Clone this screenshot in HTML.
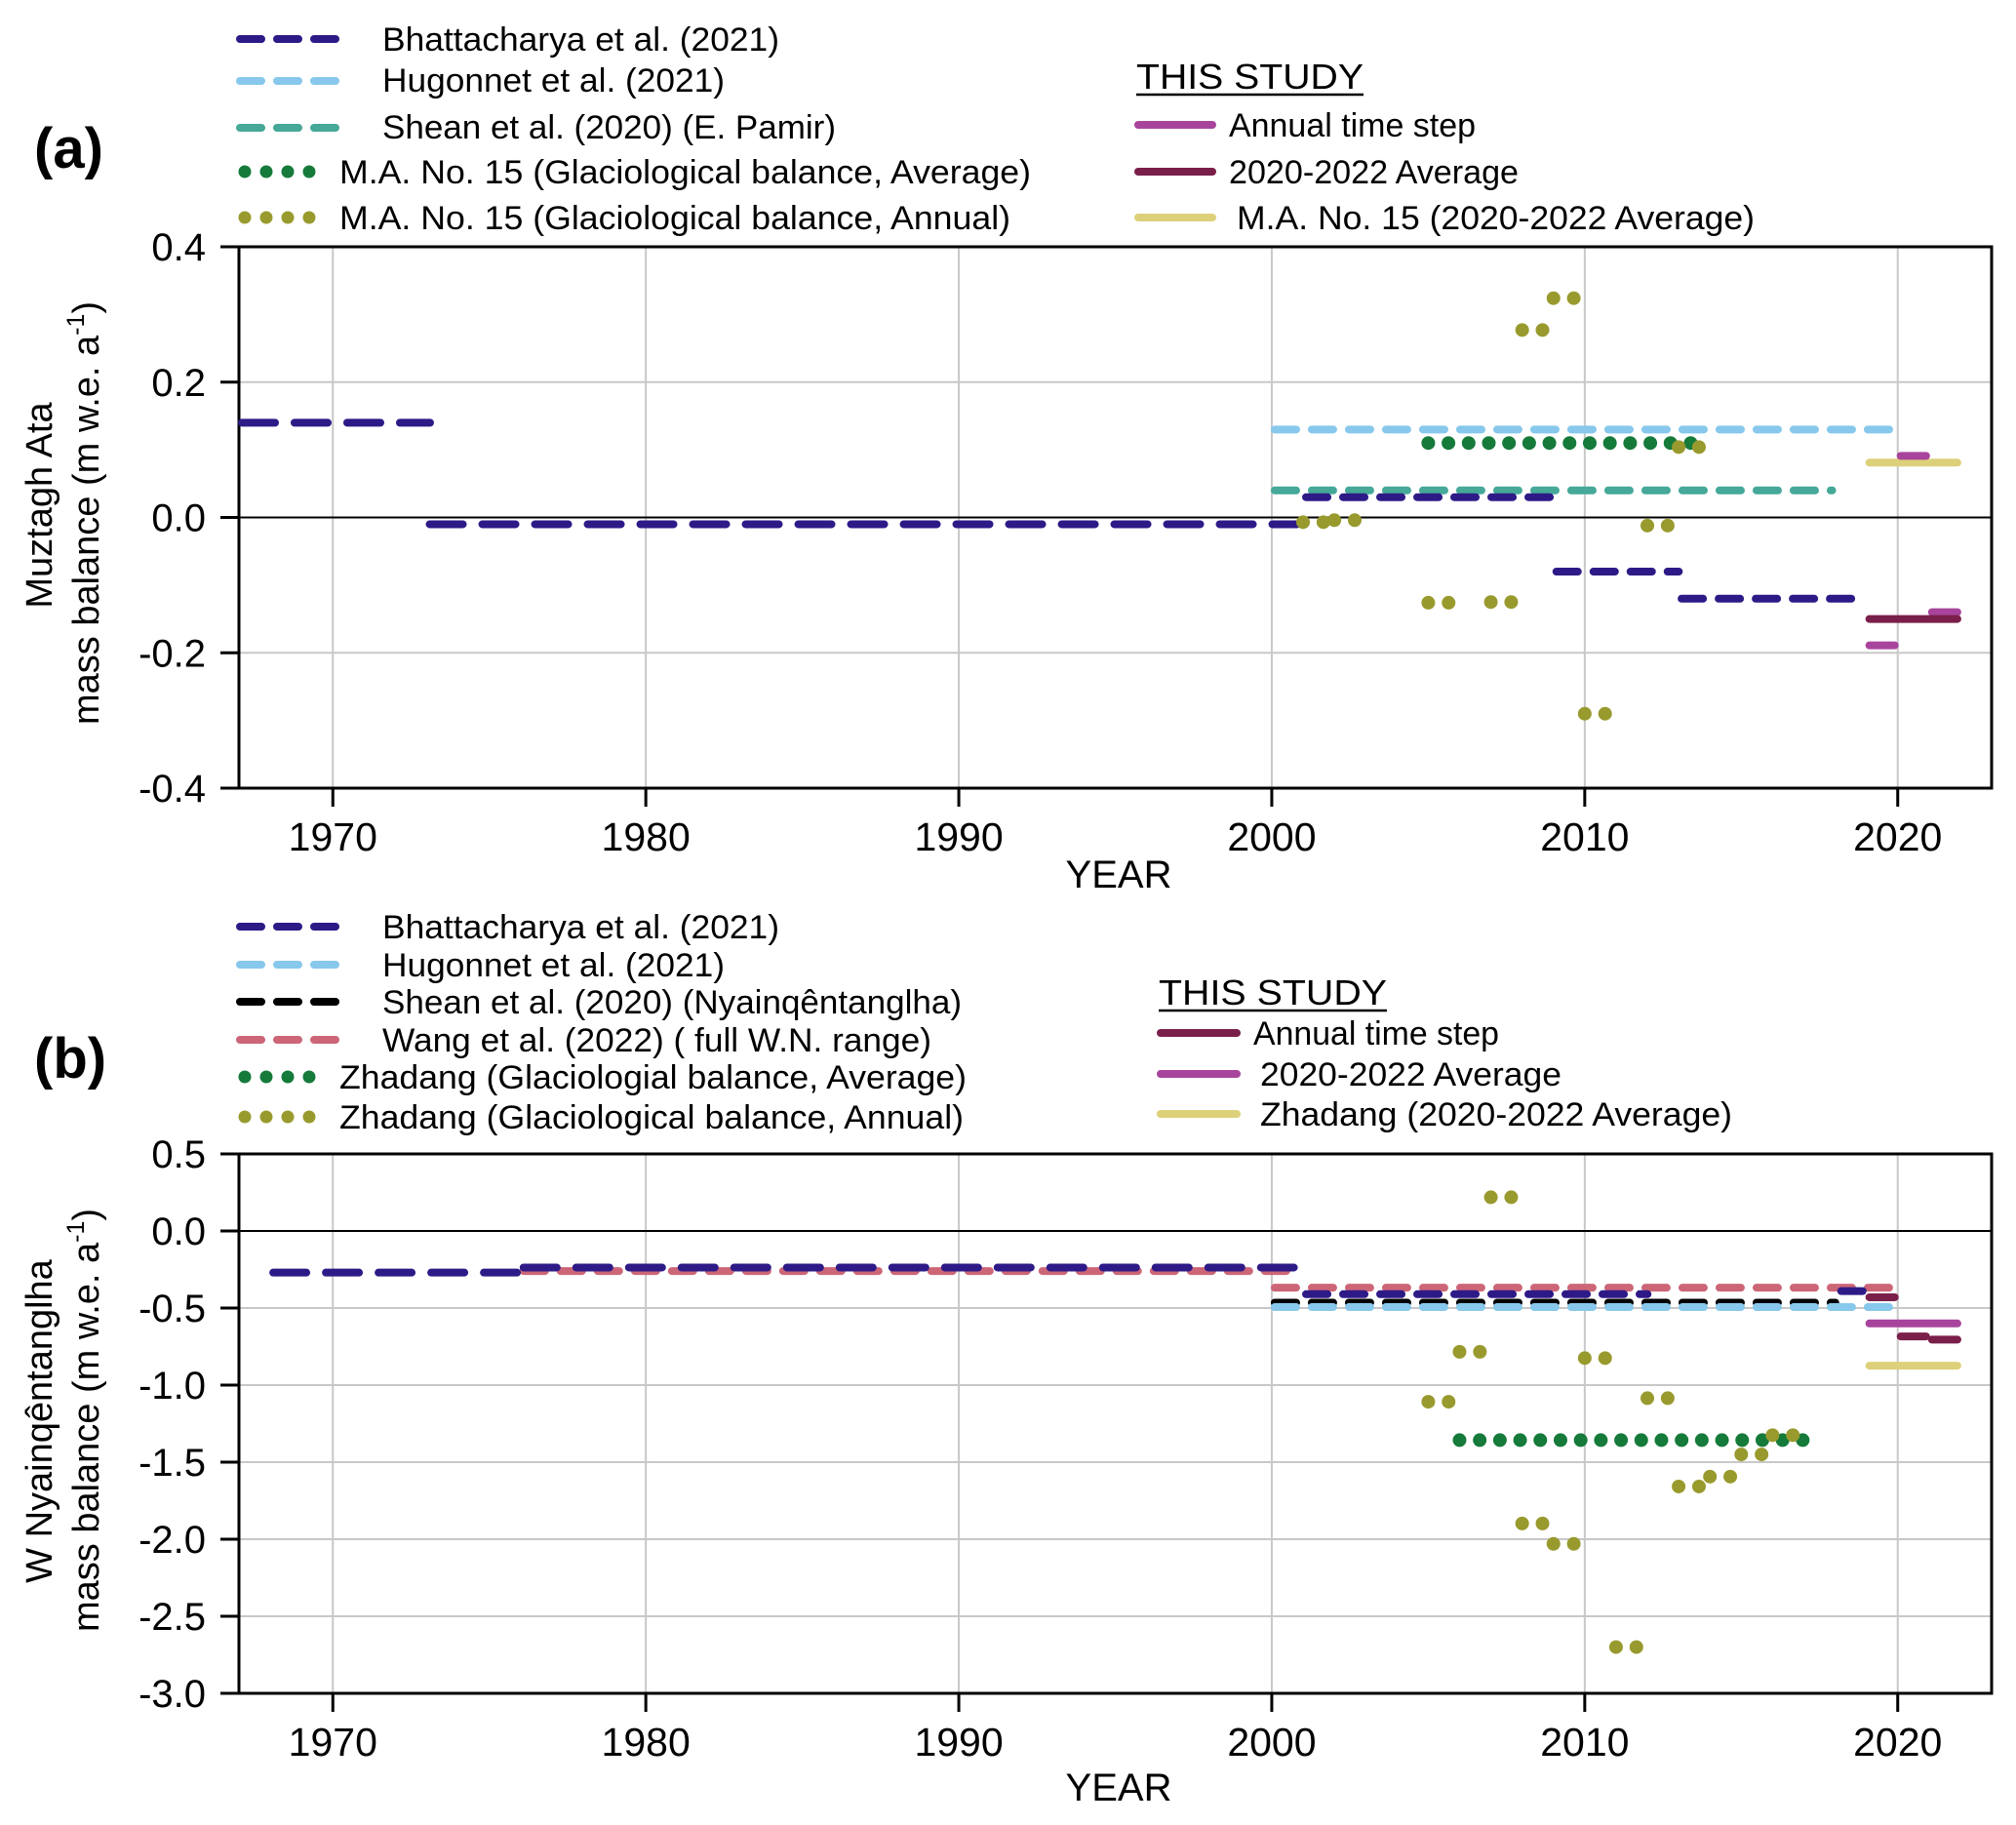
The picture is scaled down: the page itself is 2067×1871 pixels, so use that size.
<!DOCTYPE html>
<html><head><meta charset="utf-8">
<style>
html,body{margin:0;padding:0;background:#fff;}
svg{display:block;font-family:"Liberation Sans",sans-serif;}
</style></head>
<body>
<svg id="fig" width="2067" height="1871" viewBox="0 0 2067 1871" xmlns="http://www.w3.org/2000/svg"></svg>
<script>
// ---------- Panel (a) data: Muztagh Ata ----------
const a_bhatt_start = [1967, 1973, 2001, 2009, 2013];
const a_bhatt_end   = [1973.2, 2000.9, 2009, 2013.1, 2019];
const a_bhatt_val   = [0.14, -0.01, 0.03, -0.08, -0.12];
const a_hug_start = [2000]; const a_hug_end = [2020]; const a_hug_val = [0.13];
const a_shean_start = [2000]; const a_shean_end = [2018]; const a_shean_val = [0.04];
const a_avg_start = [2005]; const a_avg_end = [2013.5]; const a_avg_val = [0.11];
const a_ann_years = [2001, 2002, 2005, 2007, 2008, 2009, 2010, 2012, 2013];
const a_ann_vals  = [-0.007, -0.004, -0.126, -0.125, 0.277, 0.324, -0.29, -0.012, 0.104];
const a_study_annual_start = [2019, 2020, 2021];
const a_study_annual_end   = [2020, 2021, 2022];
const a_study_annual_val   = [-0.189, 0.091, -0.14];
const a_study_avg_start = [2019]; const a_study_avg_end = [2022]; const a_study_avg_val = [-0.15];
const a_site_avg_start = [2019]; const a_site_avg_end = [2022]; const a_site_avg_val = [0.081];
const a_yticks = [0.4, 0.2, 0.0, -0.2, -0.4];
const a_ytick_labels = ["0.4", "0.2", "0.0", "-0.2", "-0.4"];

// ---------- Panel (b) data: W Nyainqentanglha ----------
const b_bhatt_start = [1968, 1976, 2001, 2018.1];
const b_bhatt_end   = [1976.2, 2000.8, 2012.1, 2019];
const b_bhatt_val   = [-0.27, -0.237, -0.41, -0.39];
const b_wang_start = [1976, 2000]; const b_wang_end = [2000.9, 2020]; const b_wang_val = [-0.26, -0.368];
const b_shean_start = [2000]; const b_shean_end = [2018.1]; const b_shean_val = [-0.465];
const b_hug_start = [2000]; const b_hug_end = [2020]; const b_hug_val = [-0.494];
const b_avg_start = [2006]; const b_avg_end = [2017]; const b_avg_val = [-1.357];
const b_ann_years = [2005, 2006, 2007, 2008, 2009, 2010, 2011, 2012, 2013, 2014, 2015, 2016];
const b_ann_vals  = [-1.108, -0.784, 0.219, -1.898, -2.03, -0.825, -2.70, -1.085, -1.658, -1.594, -1.45, -1.325];
const b_study_annual_start = [2019, 2020, 2021];
const b_study_annual_end   = [2020, 2021, 2022];
const b_study_annual_val   = [-0.43, -0.684, -0.705];
const b_study_avg_start = [2019]; const b_study_avg_end = [2022]; const b_study_avg_val = [-0.60];
const b_site_avg_start = [2019]; const b_site_avg_end = [2022]; const b_site_avg_val = [-0.874];
const b_yticks = [0.5, 0.0, -0.5, -1.0, -1.5, -2.0, -2.5, -3.0];
const b_ytick_labels = ["0.5", "0.0", "-0.5", "-1.0", "-1.5", "-2.0", "-2.5", "-3.0"];

const xticks = [1970, 1980, 1990, 2000, 2010, 2020];
const xtick_labels = ["1970", "1980", "1990", "2000", "2010", "2020"];

const C = {bhatt:"#2e1a87", hug:"#87c8ec", sheanA:"#45a898", black:"#000", wang:"#cc6677",
  avg:"#157a3a", ann:"#999a2e", magenta:"#a8449c", maroon:"#7a1f4a", yellow:"#ddd07a"};

const NS = "http://www.w3.org/2000/svg";
const svg = document.getElementById("fig");
function mk(tag, attrs, parent) {
  const e = document.createElementNS(NS, tag);
  for (const k in attrs) e.setAttribute(k, attrs[k]);
  (parent || svg).appendChild(e);
  return e;
}
const X0 = 245, X1 = 2042, XMIN = 1967, XMAX = 2023;
function xs(v) { return X0 + (v - XMIN) / (XMAX - XMIN) * (X1 - X0); }

function panel(name, top, bot, ymax, ymin, yticks, ylabels) {
  const g = mk("g", {});
  
  
  const ys = v => top + (ymax - v) / (ymax - ymin) * (bot - top);
  xticks.forEach(t => { const l = mk("line", {x1:xs(t), x2:xs(t), y1:top, y2:bot, stroke:"#c8c8c8", "stroke-width":2}, g);
      });
  yticks.forEach(t => { const l = mk("line", {x1:X0, x2:X1, y1:ys(t), y2:ys(t), stroke: t===0 ? "#000" : "#c8c8c8", "stroke-width":2}, g);
      });
  const fr = mk("rect", {x:X0, y:top, width:X1-X0, height:bot-top, fill:"none", stroke:"#000", "stroke-width":3}, g);
   
  yticks.forEach((t, i) => {
    const l = mk("line", {x1:X0-19, x2:X0, y1:ys(t), y2:ys(t), stroke:"#000", "stroke-width":3}, g);
     
    const tx = mk("text", {x:211, y:ys(t)+14, "font-size":40, "text-anchor":"end"}, g);
    tx.textContent = ylabels[i];
     
  });
  xticks.forEach((t, i) => {
    const l = mk("line", {x1:xs(t), x2:xs(t), y1:bot, y2:bot+19, stroke:"#000", "stroke-width":3}, g);
     
    const tx = mk("text", {x:xs(t), y:bot+64, "font-size":41, "text-anchor":"middle"}, g);
    tx.textContent = xtick_labels[i];
     
  });
  return {g, ys};
}

function segs(P, starts, ends, vals, color, dash, name) {
  starts.forEach((s, i) => {
    const l = mk("line", {x1:xs(s)+3, x2:xs(ends[i])-3, y1:P.ys(vals[i]), y2:P.ys(vals[i]), stroke:color,
      "stroke-width":8, "stroke-linecap":"round"}, P.g);
    if (dash) l.setAttribute("stroke-dasharray", dash);
    
    
  });
}
function dotsRange(P, starts, ends, vals, color, name) {
  starts.forEach((s, i) => {
    for (let t = s; t <= ends[i] + 0.01; t += 0.645) {
      const c = mk("circle", {cx:xs(t), cy:P.ys(vals[i]), r:7, fill:color}, P.g);
      
      
    }
  });
}
function annualDots(P, years, vals, color, name) {
  years.forEach((y, i) => {
    [0, 0.65].forEach(off => {
      const c = mk("circle", {cx:xs(y+off), cy:P.ys(vals[i]), r:7, fill:color}, P.g);
      
      
    });
  });
}
function txt(x, y, s, size, name, len, extra) {
  const t = mk("text", Object.assign({x:x, y:y, "font-size":size}, extra || {}));
  t.textContent = s;
  if (len) { t.setAttribute("textLength", len); t.setAttribute("lengthAdjust", "spacingAndGlyphs"); }
  
  
  return t;
}
function legLine(x1, x2, y, color, kind, name) {
  let e;
  if (kind === "dots") {
    e = mk("g", {});
    for (let k = 0; k < 4; k++) mk("circle", {cx:x1+6+k*22, cy:y, r:6.5, fill:color}, e);
  } else {
    e = mk("line", {x1:x1+4, x2:x2-4, y1:y, y2:y, stroke:color, "stroke-width":8, "stroke-linecap":"round"});
    if (kind === "dash") e.setAttribute("stroke-dasharray", "22 16");
  }
  
  
}

// ===== Panel (a) =====
const PA = panel("panel-a-plot", 253, 808, 0.4, -0.4, a_yticks, a_ytick_labels);
segs(PA, a_hug_start, a_hug_end, a_hug_val, C.hug, "22 16", "hugonnet-line");
segs(PA, a_shean_start, a_shean_end, a_shean_val, C.sheanA, "22 16", "shean-line");
segs(PA, a_bhatt_start.slice(0,2), a_bhatt_end.slice(0,2), a_bhatt_val.slice(0,2), C.bhatt, "34 20", "bhattacharya-line");
segs(PA, a_bhatt_start.slice(2), a_bhatt_end.slice(2), a_bhatt_val.slice(2), C.bhatt, "22 16", "bhattacharya-line");
dotsRange(PA, a_avg_start, a_avg_end, a_avg_val, C.avg, "glaciological-average-dot");
annualDots(PA, a_ann_years, a_ann_vals, C.ann, "glaciological-annual-dot");
segs(PA, a_site_avg_start, a_site_avg_end, a_site_avg_val, C.yellow, null, "site-2020-2022-average");
segs(PA, a_study_annual_start, a_study_annual_end, a_study_annual_val, C.magenta, null, "study-annual-step");
segs(PA, a_study_avg_start, a_study_avg_end, a_study_avg_val, C.maroon, null, "study-2020-2022-average");

txt(35, 172, "(a)", 58, "panel-a-label", null, {"font-weight":"bold"});
legLine(242, 351, 40, C.bhatt, "dash", "legend-bhattacharya");
txt(392, 52, "Bhattacharya et al. (2021)", 34, "legend-text", 407);
legLine(242, 351, 83, C.hug, "dash", "legend-hugonnet");
txt(392, 94, "Hugonnet et al. (2021)", 34, "legend-text", 351);
legLine(242, 351, 131, C.sheanA, "dash", "legend-shean");
txt(392, 142, "Shean et al. (2020) (E. Pamir)", 34, "legend-text", 465);
legLine(245, 320, 176, C.avg, "dots", "legend-glaciological-average");
txt(348, 188, "M.A. No. 15 (Glaciological balance, Average)", 34, "legend-text", 709);
legLine(245, 320, 223, C.ann, "dots", "legend-glaciological-annual");
txt(348, 235, "M.A. No. 15 (Glaciological balance, Annual)", 34, "legend-text", 688);
txt(1165, 91, "THIS STUDY", 36, "legend-title", 233);
mk("line", {x1:1165, x2:1398, y1:97, y2:97, stroke:"#000", "stroke-width":2.5});
legLine(1163, 1247, 128, C.magenta, "solid", "legend-annual-step");
txt(1260, 140, "Annual time step", 34, "legend-text", 253);
legLine(1163, 1247, 176, C.maroon, "solid", "legend-2020-2022-average");
txt(1260, 188, "2020-2022 Average", 34, "legend-text", 297);
legLine(1163, 1247, 223, C.yellow, "solid", "legend-site-average");
txt(1268, 235, "M.A. No. 15 (2020-2022 Average)", 34, "legend-text", 531);

txt(1147, 910, "YEAR", 40, "x-axis-title-a", null, {"text-anchor":"middle"});
let yt = txt(0, 0, "Muztagh Ata", 38, "y-axis-title-a", null, {"text-anchor":"middle", transform:"translate(53,518) rotate(-90)"});
yt = txt(0, 0, "", 38, "y-axis-title-a", null, {"text-anchor":"middle", transform:"translate(101,526) rotate(-90)"});
yt.innerHTML = 'mass balance (m w.e. a<tspan font-size="25" dy="-15">-1</tspan><tspan dy="15">)</tspan>';

// ===== Panel (b) =====
const PB = panel("panel-b-plot", 1183, 1736, 0.5, -3.0, b_yticks, b_ytick_labels);
segs(PB, b_wang_start, b_wang_end, b_wang_val, C.wang, "22 16", "wang-line");
segs(PB, b_bhatt_start.slice(0,2), b_bhatt_end.slice(0,2), b_bhatt_val.slice(0,2), C.bhatt, "34 20", "bhattacharya-line");
segs(PB, b_bhatt_start.slice(2), b_bhatt_end.slice(2), b_bhatt_val.slice(2), C.bhatt, "22 16", "bhattacharya-line");
segs(PB, b_shean_start, b_shean_end, b_shean_val, C.black, "22 16", "shean-line");
segs(PB, b_hug_start, b_hug_end, b_hug_val, C.hug, "22 16", "hugonnet-line");
dotsRange(PB, b_avg_start, b_avg_end, b_avg_val, C.avg, "glaciological-average-dot");
annualDots(PB, b_ann_years, b_ann_vals, C.ann, "glaciological-annual-dot");
segs(PB, b_study_avg_start, b_study_avg_end, b_study_avg_val, C.magenta, null, "study-2020-2022-average");
segs(PB, b_study_annual_start, b_study_annual_end, b_study_annual_val, C.maroon, null, "study-annual-step");
segs(PB, b_site_avg_start, b_site_avg_end, b_site_avg_val, C.yellow, null, "site-2020-2022-average");

txt(35, 1105, "(b)", 58, "panel-b-label", null, {"font-weight":"bold"});
legLine(242, 351, 950, C.bhatt, "dash", "legend-bhattacharya");
txt(392, 962, "Bhattacharya et al. (2021)", 34, "legend-text", 407);
legLine(242, 351, 989, C.hug, "dash", "legend-hugonnet");
txt(392, 1001, "Hugonnet et al. (2021)", 34, "legend-text", 351);
legLine(242, 351, 1027, C.black, "dash", "legend-shean");
txt(392, 1039, "Shean et al. (2020) (Nyainqêntanglha)", 34, "legend-text", 594);
legLine(242, 351, 1066, C.wang, "dash", "legend-wang");
txt(392, 1078, "Wang et al. (2022) ( full W.N. range)", 34, "legend-text", 563);
legLine(245, 320, 1104, C.avg, "dots", "legend-glaciological-average");
txt(348, 1116, "Zhadang (Glaciologial balance, Average)", 34, "legend-text", 643);
legLine(245, 320, 1145, C.ann, "dots", "legend-glaciological-annual");
txt(348, 1157, "Zhadang (Glaciological balance, Annual)", 34, "legend-text", 640);
txt(1188, 1030, "THIS STUDY", 36, "legend-title", 234);
mk("line", {x1:1188, x2:1422, y1:1036, y2:1036, stroke:"#000", "stroke-width":2.5});
legLine(1186, 1272, 1059, C.maroon, "solid", "legend-annual-step");
txt(1285, 1071, "Annual time step", 34, "legend-text", 252);
legLine(1186, 1272, 1101, C.magenta, "solid", "legend-2020-2022-average");
txt(1292, 1113, "2020-2022 Average", 34, "legend-text", 309);
legLine(1186, 1272, 1142, C.yellow, "solid", "legend-site-average");
txt(1292, 1154, "Zhadang (2020-2022 Average)", 34, "legend-text", 484);

txt(1147, 1846, "YEAR", 40, "x-axis-title-b", null, {"text-anchor":"middle"});
txt(0, 0, "W Nyainqêntanglha", 38, "y-axis-title-b", null, {"text-anchor":"middle", transform:"translate(53,1457) rotate(-90)"});
yt = txt(0, 0, "", 38, "y-axis-title-b", null, {"text-anchor":"middle", transform:"translate(101,1456) rotate(-90)"});
yt.innerHTML = 'mass balance (m w.e. a<tspan font-size="25" dy="-15">-1</tspan><tspan dy="15">)</tspan>';
</script>
</body></html>
